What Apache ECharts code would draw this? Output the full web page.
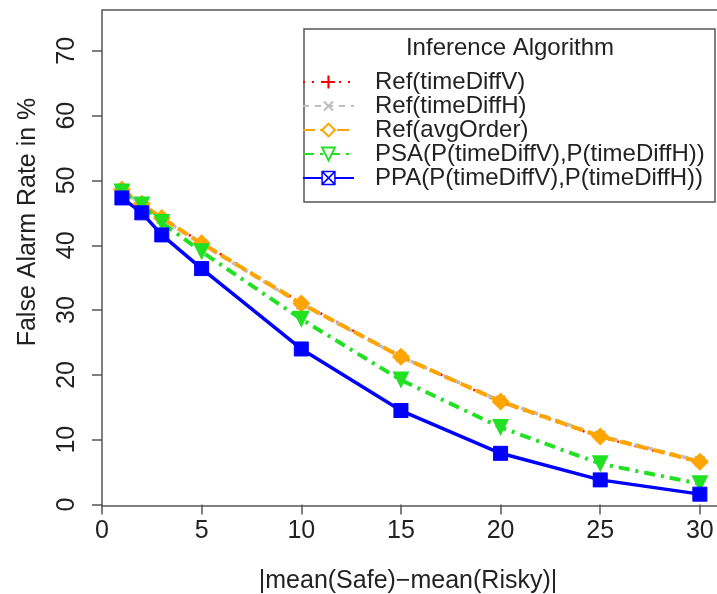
<!DOCTYPE html>
<html>
<head>
<meta charset="utf-8">
<script src="https://cdn.jsdelivr.net/npm/echarts@6/dist/echarts.min.js"></script>
<style>
  html, body { margin: 0; padding: 0; background: #fff; }
  #chart { width: 717px; height: 594px; }
</style>
</head>
<body>
<div id="chart"></div>
<script>
// mean difference between safe and risky
const xValues = [1, 2, 3, 5, 10, 15, 20, 25, 30];

const refTimeDiffV = [48.6, 46.4, 44.2, 40.4, 31.1, 22.9, 15.8, 10.4, 6.5];
const refTimeDiffH = [48.5, 46.3, 44.1, 40.2, 30.9, 22.8, 16.0, 10.6, 6.7];
const refAvgOrder = [48.6, 46.4, 44.2, 40.3, 31.0, 22.8, 15.9, 10.5, 6.6];
const psa = [48.2, 46.2, 43.5, 39.0, 28.6, 19.2, 11.9, 6.3, 3.2];
const ppa = [47.3, 45.0, 41.6, 36.4, 24.0, 14.5, 7.9, 3.8, 1.6];

const seriesNames = [
	'Ref(timeDiffV)',
	'Ref(timeDiffH)',
	'Ref(avgOrder)',
	'PSA(P(timeDiffV),P(timeDiffH))',
	'PPA(P(timeDiffV),P(timeDiffH))',
];

const xTicks = [0, 5, 10, 15, 20, 25, 30];
const yTicks = [0, 10, 20, 30, 40, 50, 60, 70];

const FONT = "'Liberation Sans', Arial, Helvetica, sans-serif";

const pair = (ys) => xValues.map((x, i) => [x, ys[i]]);

const plusPath = 'path://M5,0H7V5H12V7H7V12H5V7H0V5H5Z';
const boxXPath = 'path://M0,0H12V12H0Z M0,0L12,12 M12,0L0,12';

const myChart = echarts.init(document.getElementById('chart'));

const option = {
	backgroundColor: '#fff',
	animation: false,
	textStyle: { fontFamily: FONT },
	grid: {
		left: 102,
		top: 10,
		right: -2,
		bottom: 88,
		show: true,
		borderColor: '#555',
		borderWidth: 1.5,
		outerBoundsMode: 'none',
	},
	xAxis: {
		type: 'value',
		min: 0,
		max: 30.96,
		splitLine: { show: false },
		axisLine: { show: false },
		axisTick: { show: true, length: 10, customValues: xTicks, lineStyle: { color: '#555', width: 1.5 } },
		axisLabel: { customValues: xTicks, fontSize: 25, color: '#222', margin: 13, fontFamily: FONT },
	},
	yAxis: {
		type: 'value',
		min: -0.23,
		max: 76.3,
		splitLine: { show: false },
		axisLine: { show: false },
		axisTick: { show: true, length: 10, customValues: yTicks, lineStyle: { color: '#555', width: 1.5 } },
		axisLabel: { customValues: yTicks, fontSize: 25, color: '#222', margin: 22, rotate: 90, fontFamily: FONT },
	},
	legend: {
		orient: 'vertical',
		left: 302,
		top: 70,
		padding: 0,
		itemGap: 0,
		itemWidth: 51,
		itemHeight: 16,
		textStyle: { fontSize: 24, lineHeight: 23.3, color: '#222', fontFamily: FONT, padding: [0, 0, 0, 16] },
		data: [
			{ name: seriesNames[0] },
			{ name: seriesNames[1] },
			{ name: seriesNames[2], itemStyle: { color: '#fff', borderColor: '#ffa500', borderWidth: 2 } },
			{ name: seriesNames[3], itemStyle: { color: '#fff', borderColor: '#22e022', borderWidth: 2 } },
			{ name: seriesNames[4], itemStyle: { color: '#fff', borderColor: '#0000ff', borderWidth: 1.5 } },
		],
	},
	graphic: [
		{
			type: 'rect',
			shape: { x: 304, y: 29, width: 411, height: 173 },
			style: { fill: 'none', stroke: '#555', lineWidth: 1.5 },
			z: 1,
		},
		{
			type: 'text',
			x: 510,
			y: 48,
			style: { text: 'Inference Algorithm', font: '24px ' + FONT, fill: '#222', textAlign: 'center', textVerticalAlign: 'middle' },
		},
		{
			type: 'text',
			x: 408,
			y: 581,
			style: { text: '|mean(Safe)\u2212mean(Risky)|', font: '25px ' + FONT, fill: '#222', textAlign: 'center', textVerticalAlign: 'middle' },
		},
		{
			type: 'text',
			x: 28,
			y: 222,
			rotation: Math.PI / 2,
			style: { text: 'False Alarm Rate in %', font: '25px ' + FONT, fill: '#222', textAlign: 'center', textVerticalAlign: 'middle' },
		},
	],
	series: [
		{
			name: seriesNames[0],
			type: 'line',
			data: pair(refTimeDiffV),
			symbol: plusPath,
			symbolSize: 14,
			itemStyle: { color: '#ff0000' },
			lineStyle: { color: '#ff0000', width: 2.5, type: [2, 7] },
		},
		{
			name: seriesNames[1],
			type: 'line',
			data: pair(refTimeDiffH),
			symbol: plusPath,
			symbolRotate: 45,
			symbolSize: 14,
			itemStyle: { color: '#bebebe' },
			lineStyle: { color: '#bebebe', width: 3.5, type: [6, 6] },
		},
		{
			name: seriesNames[2],
			type: 'line',
			data: pair(refAvgOrder),
			symbol: 'diamond',
			symbolSize: 18,
			itemStyle: { color: '#ffa500' },
			lineStyle: { color: '#ffa500', width: 4, type: [12, 5] },
		},
		{
			name: seriesNames[3],
			type: 'line',
			data: pair(psa),
			symbol: 'triangle',
			symbolRotate: 180,
			symbolSize: 17,
			itemStyle: { color: '#22e022' },
			lineStyle: { color: '#22e022', width: 4, type: [11, 6, 3, 6] },
		},
		{
			name: seriesNames[4],
			type: 'line',
			data: pair(ppa),
			symbol: boxXPath,
			symbolSize: 14,
			itemStyle: { color: '#0000ff', borderColor: '#0000ff' },
			lineStyle: { color: '#0000ff', width: 3.5 },
		},
	],
};

myChart.setOption(option);
</script>
</body>
</html>
